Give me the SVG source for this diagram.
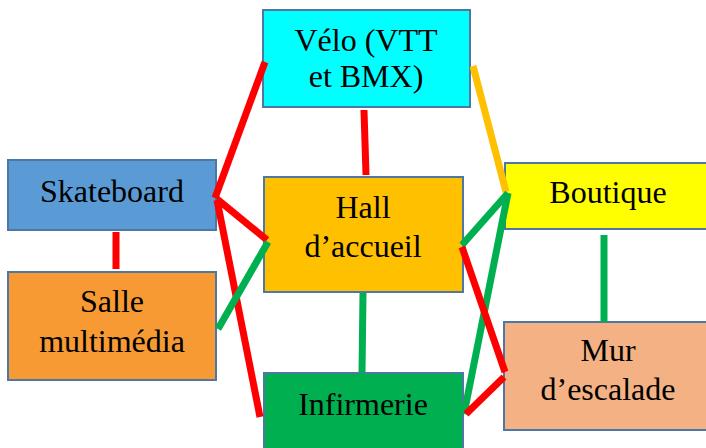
<svg xmlns="http://www.w3.org/2000/svg" width="706" height="448" viewBox="0 0 706 448">
<style>
.box{stroke:#4F77A3;stroke-width:2}
.t{font-family:"Liberation Serif","Times New Roman",serif;font-size:32px;fill:#000;text-anchor:middle}
.c{fill:none;stroke-width:7;stroke-linecap:butt}
.r{stroke:#FF0000}
.g{stroke:#00B050}
.y{stroke:#FFC000}
</style>
<rect width="706" height="448" fill="#fff"/>
<g id="velo"><rect class="box" x="263" y="10" width="207" height="97" fill="#00FFFF"/><text class="t" x="366" y="51">Vélo (VTT</text><text class="t" x="366" y="87">et BMX)</text></g>
<g id="skateboard"><rect class="box" x="8" y="160" width="208" height="70" fill="#5B9BD5"/><text class="t" x="112" y="202">Skateboard</text></g>
<g id="salle"><rect class="box" x="8" y="272" width="208" height="108" fill="#F79A33"/><text class="t" x="112" y="312">Salle</text><text class="t" x="112" y="352">multimédia</text></g>
<g id="hall"><rect class="box" x="264" y="177" width="199" height="115" fill="#FFC000"/><text class="t" x="363" y="218">Hall</text><text class="t" x="363" y="257">d’accueil</text></g>
<g id="infirmerie"><rect class="box" x="264" y="373" width="199" height="76" fill="#00B050"/><text class="t" x="363" y="415">Infirmerie</text></g>
<g id="boutique"><rect class="box" x="505" y="163" width="206" height="66" fill="#FFFF00"/><text class="t" x="608" y="203">Boutique</text></g>
<g id="mur"><rect class="box" x="504" y="322" width="207" height="108" fill="#F4B183"/><text class="t" x="608" y="361">Mur</text><text class="t" x="608" y="400">d’escalade</text></g>
<g id="connectors">
<line class="c r" x1="265" y1="62" x2="215" y2="198"/>
<line class="c r" x1="217" y1="199" x2="267" y2="240"/>
<line class="c r" x1="217" y1="200" x2="260" y2="417"/>
<line class="c r" x1="116" y1="232" x2="116" y2="269"/>
<line class="c r" x1="364" y1="110" x2="366" y2="175"/>
<line class="c g" x1="218" y1="329" x2="268" y2="242"/>
<line class="c y" x1="473" y1="66" x2="506" y2="192"/>
<line class="c g" x1="363" y1="293" x2="362" y2="373"/>
<line class="c g" x1="462" y1="245" x2="508" y2="193"/>
<line class="c g" x1="508" y1="193" x2="464" y2="414"/>
<line class="c r" x1="462" y1="247" x2="505" y2="372"/>
<line class="c r" x1="504" y1="377" x2="466" y2="414"/>
<line class="c g" x1="604" y1="235" x2="604" y2="322"/>
</g>
</svg>
